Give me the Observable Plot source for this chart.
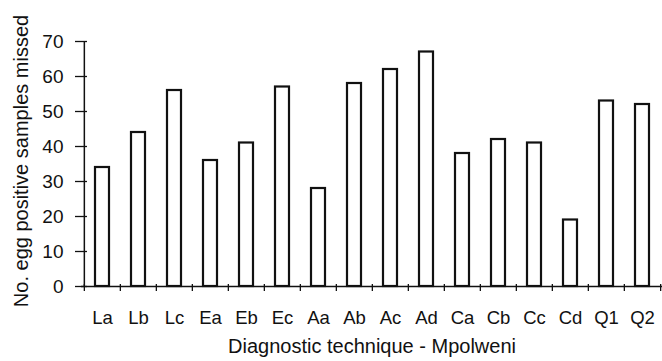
<!DOCTYPE html>
<html><head><meta charset="utf-8">
<script src="https://cdn.jsdelivr.net/npm/d3@7"></script>
<script src="https://cdn.jsdelivr.net/npm/@observablehq/plot@0.6"></script>
<style>body{margin:0;background:#fff} svg{display:block}</style>
</head><body><div id="chart"></div>
<script>
const categories = ["La","Lb","Lc","Ea","Eb","Ec","Aa","Ab","Ac","Ad","Ca","Cb","Cc","Cd","Q1","Q2"];
const missed = [34,44,56,36,41,57,28,58,62,67,38,42,41,19,53,52];
const yTicks = [0,10,20,30,40,50,60,70];
const xTitle = "Diagnostic technique - Mpolweni";
const yTitle = "No. egg positive samples missed";

const W = 662, H = 361, mL = 81, mR = 0, mT = 41, mB = 75;
const bw = (W - mL - mR) / categories.length;
const data = categories.map((c, i) => ({technique: c, missed: missed[i]}));
const ink = "#111";
const blank = () => "";

const chart = Plot.plot({
  width: W, height: H,
  marginLeft: mL, marginRight: mR, marginTop: mT, marginBottom: mB,
  style: {fontFamily: "'Liberation Sans', Arial, Helvetica, sans-serif", fontSize: "18px", color: ink, background: "#fff"},
  x: {domain: categories, padding: 0, label: null},
  y: {domain: [0, 70], label: null},
  marks: [
    Plot.barY(data, {x: "technique", y: "missed", fill: "#fff", stroke: ink, strokeWidth: 2.2, insetLeft: 11, insetRight: 11}),
    Plot.ruleY([0], {stroke: ink, strokeWidth: 1.5}),
    Plot.ruleX([categories[0]], {dx: -bw / 2, y1: 0, y2: 70, stroke: ink, strokeWidth: 1.5}),
    // y axis: crossing ticks, then labels
    Plot.axisY({ticks: yTicks, tickSize: 12, dx: 6, tickFormat: blank, strokeWidth: 1.3}),
    Plot.axisY({ticks: yTicks, tickSize: 0, tickPadding: 18, fontSize: 19}),
    // x axis: boundary ticks and labels
    Plot.axisX({tickSize: 7, dx: -bw / 2, dy: -2, tickFormat: blank, strokeWidth: 1.3}),
    Plot.axisX({ticks: [categories[categories.length - 1]], tickSize: 7, dx: bw / 2, dy: -2, tickFormat: blank, strokeWidth: 1.3}),
    Plot.axisX({tickSize: 0, tickPadding: 24, fontSize: 18.5}),
    // axis titles
    Plot.text([xTitle], {frameAnchor: "bottom", dy: 66, fontSize: 20, fill: ink}),
    Plot.text([yTitle], {frameAnchor: "left", textAnchor: "middle", rotate: -90, dx: -60, dy: -3, fontSize: 20, fill: ink})
  ]
});
document.getElementById("chart").append(chart);
</script>
</body></html>
